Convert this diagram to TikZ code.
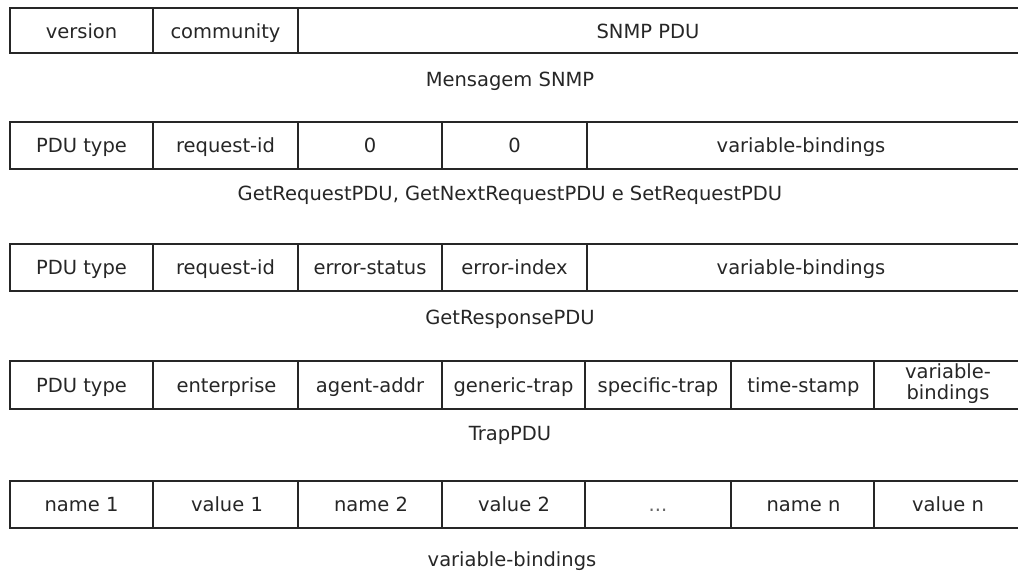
\documentclass[tikz,border=0pt]{standalone}
\usepackage{fontspec}
\setmainfont{DejaVu Sans}
\begin{document}
\begin{tikzpicture}[x=1pt,y=-1pt,
  frame/.style={draw=black!85,line width=1.6pt},
  lbl/.style={anchor=base,inner sep=0pt,text=black!85,font=\fontsize{19.5}{22}\selectfont},
  lbl2/.style={anchor=center,inner sep=0pt,align=center,text=black!85,font=\fontsize{19.5}{21}\selectfont}]
\useasboundingbox (0,0) rectangle (1018,573);
\clip (0,0) rectangle (1018,573);

% --- SNMP message ---
\draw[frame] (10,8) rectangle (1030,53);
\draw[frame] (153,8) -- (153,53) (298,8) -- (298,53);
\node[lbl] (m1) at (81.5,38) {version};
\node[lbl] (m2) at (225.5,38) {community};
\node[lbl] (m3) at (648,38) {SNMP PDU};
\node[lbl] (capm) at (510,86) {Mensagem SNMP};

% --- Get/GetNext/Set request PDU ---
\draw[frame] (10,122) rectangle (1030,169);
\draw[frame] (153,122) -- (153,169) (298,122) -- (298,169)
             (442,122) -- (442,169) (587,122) -- (587,169);
\node[lbl] (g1) at (81.5,152) {PDU type};
\node[lbl] (g2) at (225.5,152) {request-id};
\node[lbl] (g3) at (370,152) {0};
\node[lbl] (g4) at (514.5,152) {0};
\node[lbl] (g5) at (801,152) {variable-bindings};
\node[lbl] (capg) at (510,200) {GetRequestPDU, GetNextRequestPDU e SetRequestPDU};

% --- GetResponse PDU ---
\draw[frame] (10,244) rectangle (1030,291);
\draw[frame] (153,244) -- (153,291) (298,244) -- (298,291)
             (442,244) -- (442,291) (587,244) -- (587,291);
\node[lbl] (r1) at (81.5,274) {PDU type};
\node[lbl] (r2) at (225.5,274) {request-id};
\node[lbl] (r3) at (370,274) {error-status};
\node[lbl] (r4) at (514.5,274) {error-index};
\node[lbl] (r5) at (801,274) {variable-bindings};
\node[lbl] (capr) at (510,324) {GetResponsePDU};

% --- Trap PDU ---
\draw[frame] (10,361) rectangle (1030,409);
\draw[frame] (153,361) -- (153,409) (298,361) -- (298,409) (442,361) -- (442,409)
             (585,361) -- (585,409) (731,361) -- (731,409) (874,361) -- (874,409);
\node[lbl] (t1) at (81.5,392) {PDU type};
\node[lbl] (t2) at (226.5,392) {enterprise};
\node[lbl] (t3) at (370,392) {agent-addr};
\node[lbl] (t4) at (513.5,392) {generic-trap};
\node[lbl] (t5) at (658,392) {specific-trap};
\node[lbl] (t6) at (803.5,392) {time-stamp};
\node[lbl2] (t7) at (948,384) {variable-\\bindings};
\node[lbl] (capt) at (510,440) {TrapPDU};

% --- variable bindings ---
\draw[frame] (10,481) rectangle (1030,528);
\draw[frame] (153,481) -- (153,528) (298,481) -- (298,528) (442,481) -- (442,528)
             (585,481) -- (585,528) (731,481) -- (731,528) (874,481) -- (874,528);
\node[lbl] (b1) at (81.5,511) {name 1};
\node[lbl] (b2) at (227,511) {value 1};
\node[lbl] (b3) at (371,511) {name 2};
\node[lbl] (b4) at (514,511) {value 2};
\node[lbl,text=black!60] (b5) at (658,511) {...};
\node[lbl] (b6) at (803.5,511) {name n};
\node[lbl] (b7) at (948,511) {value n};
\node[lbl] (capb) at (512,566) {variable-bindings};
\end{tikzpicture}
\end{document}
